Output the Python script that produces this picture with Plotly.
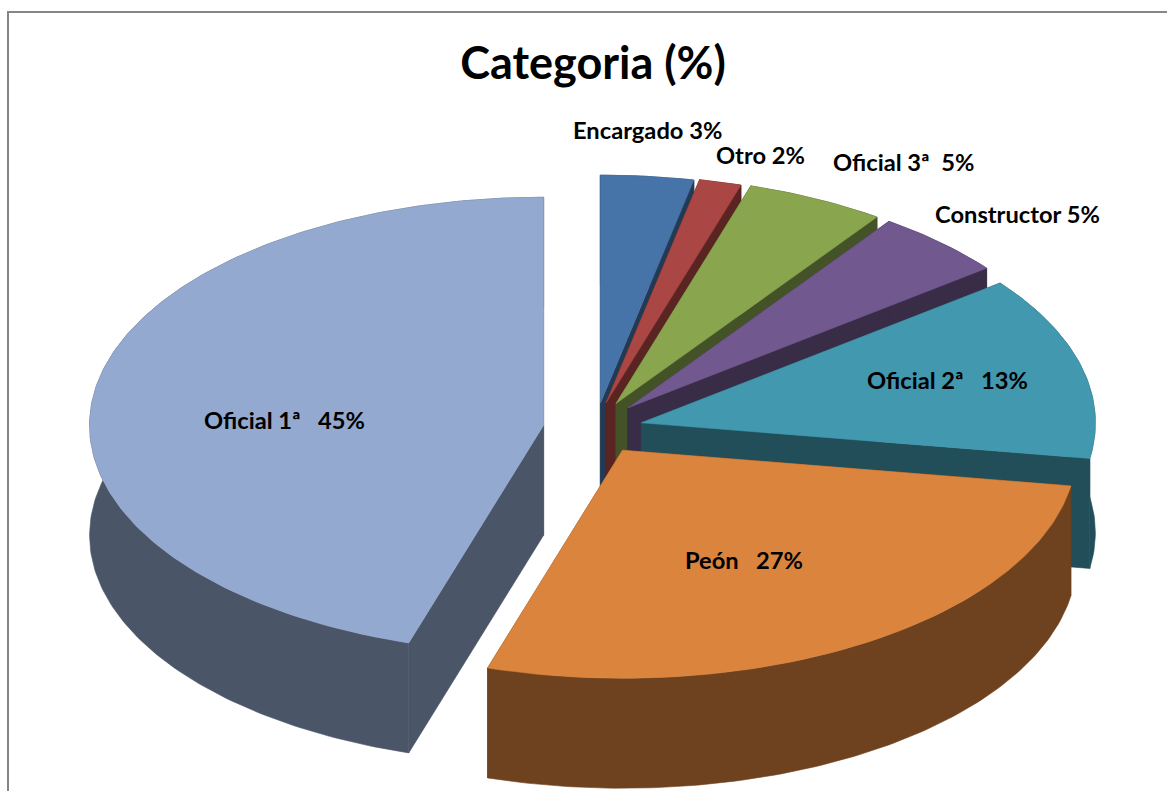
import math
import plotly.graph_objects as go

# ---- data ----
categories = ["Encargado", "Otro", "Oficial 3ª", "Constructor", "Oficial 2ª", "Peón", "Oficial 1ª"]
shares = [3.3, 1.5, 4.95, 4.75, 13.0, 27.3, 45.2]
label_gaps = [" ", " ", "  ", " ", "   ", "   ", "   "]

# ---- styles ----
top_colors = ["#4674A8", "#AA4643", "#89A54E", "#71588F", "#4198AF", "#DB843D", "#93A9CF"]
side_colors = ["#233A55", "#5A2423", "#445327", "#392C47", "#214E59", "#6E421F", "#4A5568"]

# ---- geometry of the projected pie, in page pixels ----
CX, CY = 595, 428
RX, RY = 454, 228
DEPTH = 110
PULL_X, PULL_Y = 52, 25
NUDGE = [(0, 0), (-2, -1), (-2, -2), (-3, -2), (-4, 1), (0, 1), (0, 1)]
DRAW_ORDER = [0, 1, 2, 3, 4, 6, 5]
LABEL_POS = [(647, 130), (760, 155), (903, 162), (1017, 214), (947, 380), (744, 560), (284, 420)]

fig = go.Figure()


def add_poly(xs, ys, color):
    fig.add_trace(go.Scatter(
        x=xs, y=ys, mode="lines", fill="toself", fillcolor=color,
        line=dict(color=color, width=0.6), hoverinfo="skip", showlegend=False,
    ))


starts = []
acc = 0.0
for s in shares:
    starts.append(acc)
    acc += s

for i in DRAW_ORDER:
    a0 = starts[i] / 100 * 2 * math.pi
    a1 = (starts[i] + shares[i]) / 100 * 2 * math.pi
    mid = (a0 + a1) / 2
    ax = CX + PULL_X * math.sin(mid) + NUDGE[i][0]
    ay = CY - PULL_Y * math.cos(mid) + NUDGE[i][1]
    n = max(8, int(shares[i] * 4))
    angles = [a0 + (a1 - a0) * k / n for k in range(n + 1)]
    rim_x = [ax + RX * math.sin(t) for t in angles]
    rim_y = [ay - RY * math.cos(t) for t in angles]
    c = side_colors[i]
    # radial faces
    for rx, ry in ((rim_x[0], rim_y[0]), (rim_x[-1], rim_y[-1])):
        add_poly([ax, rx, rx, ax, ax], [ay, ry, ry + DEPTH, ay + DEPTH, ay], c)
    # outer wall
    add_poly(rim_x + rim_x[::-1] + [rim_x[0]],
             rim_y + [y + DEPTH for y in rim_y[::-1]] + [rim_y[0]], c)
    # top face
    add_poly([ax] + rim_x + [ax], [ay] + rim_y + [ay], top_colors[i])

annotations = []
for i, name in enumerate(categories):
    text = name + label_gaps[i].replace(" ", "\u00a0") + f"{round(shares[i])}%"
    annotations.append(dict(
        x=LABEL_POS[i][0], y=LABEL_POS[i][1], xref="x", yref="y", text=text,
        showarrow=False, xanchor="center", yanchor="middle",
        font=dict(family="Lato", size=23.7, color="#000000", weight="bold"),
    ))

shapes = [
    dict(type="line", xref="x", yref="y", x0=7, x1=1167, y0=12, y1=12,
         line=dict(color="#868686", width=2), layer="above"),
    dict(type="line", xref="x", yref="y", x0=8, x1=8, y0=11, y1=791,
         line=dict(color="#868686", width=2), layer="above"),
]

fig.update_layout(
    width=1167, height=791, autosize=False,
    margin=dict(l=0, r=0, t=0, b=0),
    paper_bgcolor="#FFFFFF", plot_bgcolor="#FFFFFF",
    xaxis=dict(range=[0, 1167], visible=False, fixedrange=True),
    yaxis=dict(range=[791, 0], visible=False, fixedrange=True),
    title=dict(text="Categoria (%)", x=593 / 1167, y=1 - 63 / 791, xanchor="center", yanchor="middle",
               font=dict(family="Lato", size=45, color="#000000", weight="bold")),
    annotations=annotations, shapes=shapes, showlegend=False,
)

fig.write_html("out.html", config={"displayModeBar": False},
               post_script="document.body.style.margin='0';document.body.style.overflow='hidden';")
